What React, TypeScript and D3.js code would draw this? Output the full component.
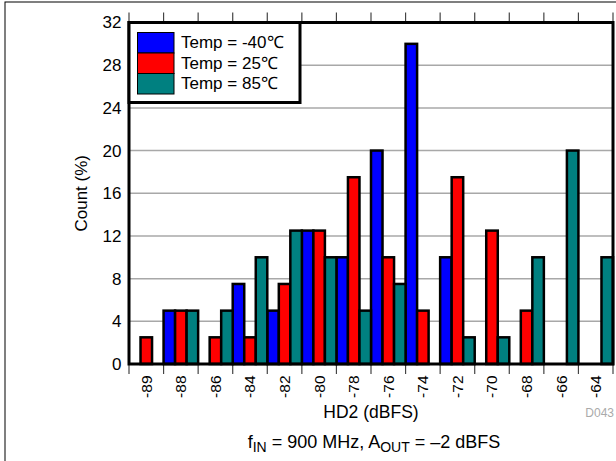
import React from "react";
import * as d3 from "d3";

const categories = ["-89", "-88", "-86", "-84", "-82", "-80", "-78", "-76", "-74", "-72", "-70", "-68", "-66", "-64"];
const seriesNames = ["Temp = -40℃", "Temp = 25℃", "Temp = 85℃"];
const seriesColors = ["#0000FF", "#FF0000", "#008080"];
const blueValues = [0, 5, 0, 7.5, 5, 12.5, 10, 20, 30, 10, 0, 0, 0, 0];
const redValues = [2.5, 5, 2.5, 2.5, 7.5, 12.5, 17.5, 10, 5, 17.5, 12.5, 5, 0, 0];
const tealValues = [0, 5, 5, 10, 12.5, 10, 5, 7.5, 0, 2.5, 2.5, 10, 20, 10];
const yTicks = [0, 4, 8, 12, 16, 20, 24, 28, 32];

const FONT = "Arial, 'Liberation Sans', sans-serif";

export default function App() {
  const W = 616, H = 461;
  const left = 129, right = 613, top = 22.5, bottom = 364;
  const x = d3.scaleBand<string>().domain(categories).range([left, right]).padding(0);
  const inner = d3.scaleBand<number>().domain([0, 1, 2]).range([0, x.bandwidth()]).padding(0);
  const y = d3.scaleLinear().domain([0, 32]).range([bottom, top]);
  const allSeries = [blueValues, redValues, tealValues];
  const boundaries = categories.map((c) => x(c) as number).concat([right]);

  return (
    <svg width={W} height={H} style={{ position: "absolute", left: 0, top: 0, background: "#fff" }} fontFamily={FONT}>
      <rect x={5} y={2} width={W + 10} height={H + 10} fill="none" stroke="#000" strokeWidth={1} />
      {/* grid */}
      {yTicks.filter((t) => t > 0 && t < 32).map((t) => (
        <line key={"g" + t} x1={left} x2={right} y1={y(t)} y2={y(t)} stroke="#a8a8a8" strokeWidth={1.5} />
      ))}
      {/* ticks */}
      {boundaries.map((b, i) => (
        <g key={"t" + i}>
          <line x1={b} x2={b} y1={bottom} y2={bottom + 10} stroke="#444" strokeWidth={1.2} />
          <line x1={b} x2={b} y1={top - 10} y2={top} stroke="#444" strokeWidth={1.2} />
        </g>
      ))}
      {/* bars */}
      {allSeries.map((vals, si) =>
        vals.map((v, ci) =>
          v > 0 ? (
            <rect
              key={`b${si}-${ci}`}
              x={(x(categories[ci]) as number) + (inner(si) as number)}
              y={y(v)}
              width={inner.bandwidth()}
              height={y(0) - y(v)}
              fill={seriesColors[si]}
              stroke="#000"
              strokeWidth={2.5}
            />
          ) : null
        )
      )}
      {/* frame */}
      <rect x={left} y={top} width={right - left} height={bottom - top} fill="none" stroke="#000" strokeWidth={3} />
      {/* y tick labels */}
      {yTicks.map((t) => (
        <text key={"yl" + t} x={121.5} y={y(t)} dy="0.35em" textAnchor="end" fontSize={17} fill="#000">
          {t}
        </text>
      ))}
      {/* x tick labels */}
      {categories.map((c) => {
        const cx = (x(c) as number) + x.bandwidth() / 2;
        return (
          <text key={"xl" + c} transform={`translate(${cx},${375.5}) rotate(-90)`} textAnchor="end" dy="0.35em" fontSize={15.5} fill="#000">
            {c}
          </text>
        );
      })}
      {/* axis titles */}
      <text transform={`translate(${86.5},${(top + bottom) / 2}) rotate(-90)`} textAnchor="middle" fontSize={17} fill="#000">
        Count (%)
      </text>
      <text x={(left + right) / 2} y={418} textAnchor="middle" fontSize={17.5} fill="#000">
        HD2 (dBFS)
      </text>
      <text x={614} y={417} textAnchor="end" fontSize={12} fill="#aaaaaa">
        D043
      </text>
      <text x={(left + right) / 2 + 3} y={448} textAnchor="middle" fontSize={18} fill="#000">
        f<tspan fontSize={14} dy={4}>IN</tspan>
        <tspan dy={-4}> = 900 MHz, A</tspan>
        <tspan fontSize={14} dy={4}>OUT</tspan>
        <tspan dy={-4}> = –2 dBFS</tspan>
      </text>
      {/* legend */}
      <rect x={left} y={top} width={171} height={80} fill="#fff" stroke="#000" strokeWidth={3} />
      {seriesNames.map((n, i) => (
        <g key={"lg" + i}>
          <rect x={137.5} y={32.5 + i * 20.5} width={36.5} height={20.5} fill={seriesColors[i]} stroke="#000" strokeWidth={1} />
          <text x={181} y={42.5 + i * 20.5} dy="0.35em" fontSize={17} fill="#000">
            {n}
          </text>
        </g>
      ))}
    </svg>
  );
}
